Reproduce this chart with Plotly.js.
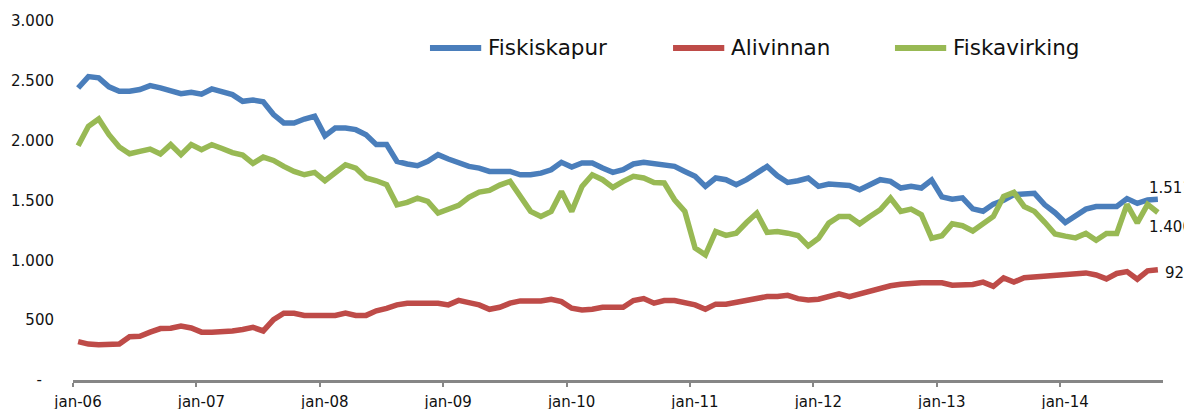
<!DOCTYPE html>
<html><head><meta charset="utf-8">
<script src="https://cdn.plot.ly/plotly-3.0.1.min.js"></script>
<style>html,body{margin:0;padding:0;background:#fff;overflow:hidden}#chart{width:1184px;height:409px}</style>
</head><body><div id="chart"></div>
<script>
// Monthly series, jan-06 .. oct-14 (106 months)
const seriesNames = ['Fiskiskapur', 'Alivinnan', 'Fiskavirking'];
const fiskiskapur = [
  2440,2535,2525,2450,2413,2413,2427,2460,2441,2421,2393,2404,
  2388,2432,2413,2385,2329,2340,2324,2218,2148,2148,2181,2204,
  2040,2106,2106,2092,2050,1967,1967,1827,1805,1791,1827,1883,
  1847,1813,1785,1771,1743,1743,1743,1715,1715,1729,1757,1819,
  1780,1813,1813,1771,1735,1757,1805,1819,1808,1805,1785,1743,
  1702,1618,1688,1674,1632,1674,1729,1785,1707,1651,1665,1688,
  1618,1637,1632,1626,1590,1637,1674,1660,1604,1618,1604,1670,
  1530,1510,1522,1430,1410,1470,1502,1550,1552,1560,1464,1398,
  1316,1378,1428,1450,1450,1450,1516,1476,1505,1511
];
const alivinnan = [
  321,300,295,295,300,362,365,400,430,432,450,435,
  400,400,400,410,422,440,410,505,558,558,540,540,
  540,540,560,540,540,578,598,628,642,642,642,642,
  628,665,647,628,591,608,642,661,661,661,675,655,
  600,586,591,608,608,608,664,681,642,664,664,647,
  628,591,634,634,650,669,689,697,697,708,680,669,
  675,697,720,697,720,750,773,787,800,810,812,812,
  812,792,792,798,818,783,853,818,855,862,865,877,
  887,890,895,878,845,890,906,842,912,921
];
const fiskavirking = [
  1958,2120,2181,2050,1947,1891,1911,1930,1888,1967,1883,1967,
  1925,1967,1935,1900,1880,1810,1863,1835,1785,1743,1715,1735,
  1665,1735,1799,1771,1688,1665,1632,1464,1484,1520,1492,1395,
  1423,1459,1526,1570,1584,1629,1660,1540,1409,1367,1409,1576,
  1409,1618,1715,1674,1610,1660,1702,1688,1651,1646,1506,1409,
  1102,1046,1241,1208,1227,1316,1395,1233,1241,1227,1208,1121,
  1185,1311,1367,1367,1305,1367,1423,1520,1409,1428,1381,1185,
  1205,1305,1289,1245,1311,1367,1534,1568,1450,1409,1318,1220,
  1202,1188,1225,1168,1225,1225,1468,1313,1468,1400
];
const xTickLabels = ['jan-06','jan-07','jan-08','jan-09','jan-10','jan-11','jan-12','jan-13','jan-14'];
const yTickValues = [0, 500, 1000, 1500, 2000, 2500, 3000];
const colors = ['#4A7EBB', '#BE4B48', '#98B954'];

const FONT = 'DejaVu Sans, Verdana, sans-serif';
const seriesData = [fiskiskapur, alivinnan, fiskavirking];
const nMonths = fiskiskapur.length;
const xs = fiskiskapur.map((_, i) => i + 0.5);

function fmt(v) {
  if (v === 0) return '-\u00a0\u00a0\u2006';
  return String(Math.round(v)).replace(/\B(?=(\d{3})+(?!\d))/g, '.');
}

const traces = seriesData.map((ys, k) => ({
  type: 'scatter', mode: 'lines', name: seriesNames[k],
  x: xs, y: ys,
  line: {color: colors[k], width: 5.5, shape: 'linear'},
  hoverinfo: 'x+y', showlegend: false, cliponaxis: false
}));

// end-of-series data labels
const endLabelShift = [[-11, 11], [5, -3], [-11, -15]];
const annotations = seriesData.map((ys, k) => ({
  x: xs[nMonths - 1], y: ys[nMonths - 1], xref: 'x', yref: 'y',
  text: fmt(ys[nMonths - 1]), showarrow: false,
  xanchor: 'left', yanchor: 'middle',
  xshift: endLabelShift[k][0], yshift: endLabelShift[k][1],
  font: {family: FONT, size: 15, color: '#111'}
}));

// legend (line sample + label), drawn in paper space
const legendX = [0.3275, 0.5505, 0.7541];
const legendY = 0.925;
const legendLen = 0.047;
const shapes = [];
seriesNames.forEach((name, k) => {
  shapes.push({type: 'line', xref: 'paper', yref: 'paper',
    x0: legendX[k], x1: legendX[k] + legendLen, y0: legendY, y1: legendY,
    line: {color: colors[k], width: 6}});
  annotations.push({xref: 'paper', yref: 'paper', x: legendX[k] + legendLen, y: legendY,
    xshift: 5, text: name, showarrow: false, xanchor: 'left', yanchor: 'middle',
    font: {family: FONT, size: 21.5, color: '#111'}});
});

const layout = {
  width: 1184, height: 409,
  margin: {l: 73, r: 21, t: 21, b: 29, pad: 0},
  paper_bgcolor: '#fff', plot_bgcolor: '#fff',
  showlegend: false,
  font: {family: FONT, size: 15, color: '#111'},
  xaxis: {
    range: [0, nMonths], showgrid: false, zeroline: false,
    showline: true, linecolor: '#868686', linewidth: 3,
    ticks: 'outside', ticklen: 4, tickwidth: 2, tickcolor: '#868686',
    tickvals: xTickLabels.map((_, i) => i * 12), ticktext: xTickLabels,
    ticklabelshift: 5, ticklabelstandoff: 2,
    tickfont: {family: FONT, size: 15, color: '#111'}, fixedrange: true
  },
  yaxis: {
    range: [0, 3000], showgrid: false, zeroline: false, showline: false,
    ticks: '', tickvals: yTickValues, ticktext: yTickValues.map(fmt),
    ticklabelstandoff: 18,
    tickfont: {family: FONT, size: 15, color: '#111'}, fixedrange: true
  },
  shapes: shapes,
  annotations: annotations
};

Plotly.newPlot('chart', traces, layout, {displayModeBar: false, staticPlot: true});
</script>
</body></html>
